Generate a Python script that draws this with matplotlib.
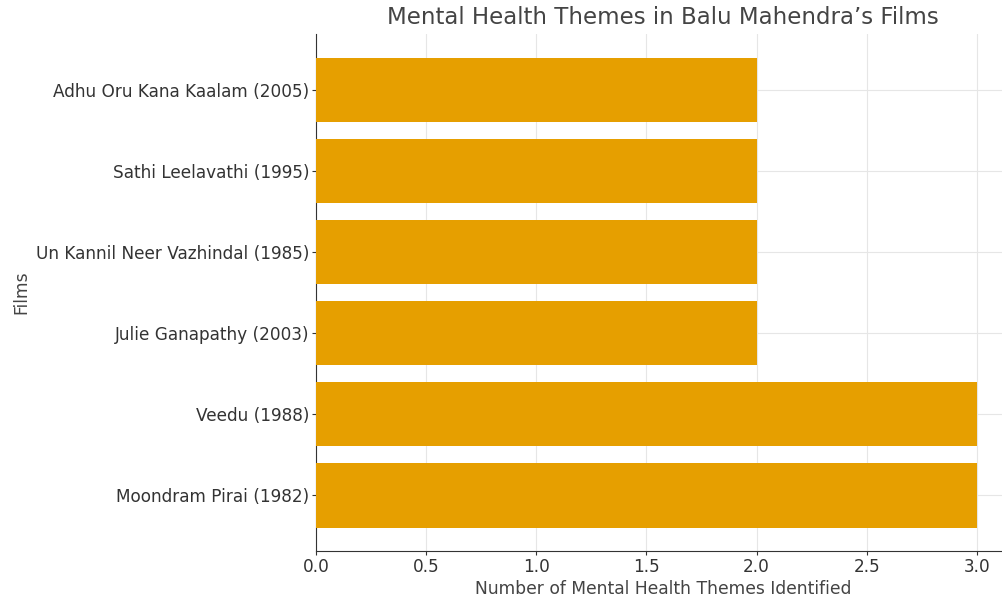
import matplotlib
matplotlib.use("Agg")
import matplotlib.pyplot as plt

plt.rcParams["font.family"] = ["DejaVu Sans"]

films = ["Moondram Pirai (1982)", "Veedu (1988)", "Julie Ganapathy (2003)",
         "Un Kannil Neer Vazhindal (1985)", "Sathi Leelavathi (1995)",
         "Adhu Oru Kana Kaalam (2005)"]
themes = [3, 3, 2, 2, 2, 2]
xticks = [0.0, 0.5, 1.0, 1.5, 2.0, 2.5, 3.0]

W, H = 1003, 598
fig = plt.figure(figsize=(W / 100, H / 100), dpi=100)
left, right, top, bottom = 316, 1010, 34, 551
ax = fig.add_axes([left / W, 1 - bottom / H, (right - left) / W, (bottom - top) / H])

ax.barh(films, themes, color="#E69F00", height=0.8, zorder=3)
ax.set_xlim(0, 3.15)
ax.set_ylim(-0.69, 5.69)
ax.set_xticks(xticks)
ax.set_xticklabels([f"{t:.1f}" for t in xticks])
ax.grid(True, color="#e6e6e6", linewidth=0.8, zorder=0)
for s in ["top", "right"]:
    ax.spines[s].set_visible(False)
for s in ["left", "bottom"]:
    ax.spines[s].set_color("#333333")
ax.tick_params(axis="both", labelsize=12.2, colors="#333333", labelcolor="#333333",
               length=3, pad=2)
ax.set_xlabel("Number of Mental Health Themes Identified", fontsize=12.3, color="#444444", labelpad=3)
ax.set_ylabel("Films", fontsize=12.3, color="#444444", labelpad=4)
ax.set_title("Mental Health Themes in Balu Mahendra\u2019s Films", fontsize=16.5, color="#444444", pad=7)

fig.savefig("out.png", dpi=100)
